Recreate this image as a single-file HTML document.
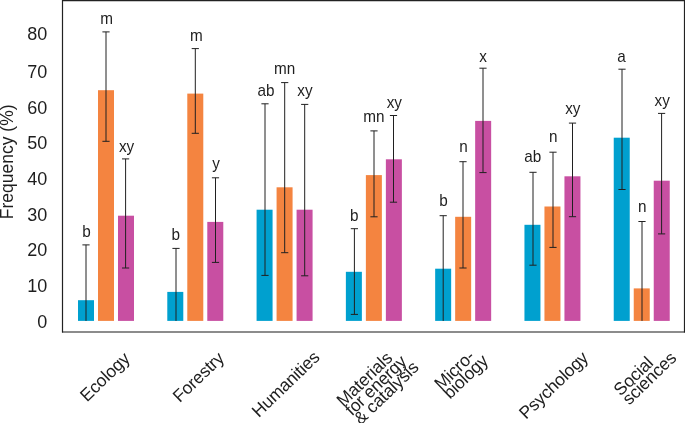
<!DOCTYPE html>
<html><head><meta charset="utf-8"><style>
html,body{margin:0;padding:0;background:#fff;overflow:hidden;}
svg{display:block;will-change:transform;font-family:"Liberation Sans",sans-serif;}
</style></head><body>
<svg width="685" height="423" viewBox="0 0 685 423">
<path d="M62.5 0V332.5M62 0.6H685M684.5 0V332.5" fill="none" stroke="#222" stroke-width="1.2"/>
<path d="M62 332H685" fill="none" stroke="#1a1a1a" stroke-width="1.1"/>
<g fill="#1e1e1e">
<rect x="78.00" y="300.20" width="16" height="20.70" fill="#00a0cf"/>
<rect x="98.00" y="90.20" width="16" height="230.70" fill="#f48440"/>
<rect x="118.00" y="215.70" width="16" height="105.20" fill="#c84fa2"/>
<rect x="167.29" y="291.90" width="16" height="29.00" fill="#00a0cf"/>
<rect x="187.29" y="93.60" width="16" height="227.30" fill="#f48440"/>
<rect x="207.29" y="221.90" width="16" height="99.00" fill="#c84fa2"/>
<rect x="256.58" y="209.70" width="16" height="111.20" fill="#00a0cf"/>
<rect x="276.58" y="187.30" width="16" height="133.60" fill="#f48440"/>
<rect x="296.58" y="209.70" width="16" height="111.20" fill="#c84fa2"/>
<rect x="345.87" y="271.80" width="16" height="49.10" fill="#00a0cf"/>
<rect x="365.87" y="175.10" width="16" height="145.80" fill="#f48440"/>
<rect x="385.87" y="159.30" width="16" height="161.60" fill="#c84fa2"/>
<rect x="435.16" y="268.70" width="16" height="52.20" fill="#00a0cf"/>
<rect x="455.16" y="216.80" width="16" height="104.10" fill="#f48440"/>
<rect x="475.16" y="120.90" width="16" height="200.00" fill="#c84fa2"/>
<rect x="524.45" y="224.80" width="16" height="96.10" fill="#00a0cf"/>
<rect x="544.45" y="206.50" width="16" height="114.40" fill="#f48440"/>
<rect x="564.45" y="176.30" width="16" height="144.60" fill="#c84fa2"/>
<rect x="613.74" y="137.70" width="16" height="183.20" fill="#00a0cf"/>
<rect x="633.74" y="288.40" width="16" height="32.50" fill="#f48440"/>
<rect x="653.74" y="180.70" width="16" height="140.20" fill="#c84fa2"/>
<path d="M86.00 244.90V320.90M82.40 244.90H89.60M106.00 31.90V141.30M102.40 31.90H109.60M102.40 141.30H109.60M125.60 158.90V268.00M122.00 158.90H129.20M122.00 268.00H129.20M176.00 248.40V320.90M172.40 248.40H179.60M195.30 48.60V133.30M191.70 48.60H198.90M191.70 133.30H198.90M215.50 177.80V262.40M211.90 177.80H219.10M211.90 262.40H219.10M265.00 103.80V275.40M261.40 103.80H268.60M261.40 275.40H268.60M284.70 82.60V252.70M281.10 82.60H288.30M281.10 252.70H288.30M304.70 104.40V275.80M301.10 104.40H308.30M301.10 275.80H308.30M354.40 228.70V314.40M350.80 228.70H358.00M350.80 314.40H358.00M374.00 130.90V216.80M370.40 130.90H377.60M370.40 216.80H377.60M393.50 115.50V202.20M389.90 115.50H397.10M389.90 202.20H397.10M443.20 215.70V320.90M439.60 215.70H446.80M463.00 161.70V268.00M459.40 161.70H466.60M459.40 268.00H466.60M483.00 68.20V172.60M479.40 68.20H486.60M479.40 172.60H486.60M533.00 172.30V265.20M529.40 172.30H536.60M529.40 265.20H536.60M553.00 152.20V247.40M549.40 152.20H556.60M549.40 247.40H556.60M572.50 123.10V216.70M568.90 123.10H576.10M568.90 216.70H576.10M622.00 69.20V189.50M618.40 69.20H625.60M618.40 189.50H625.60M642.00 221.50V320.90M638.40 221.50H645.60M661.60 113.40V233.90M658.00 113.40H665.20M658.00 233.90H665.20" fill="none" stroke="#202020" stroke-width="1.0"/>
<text transform="translate(86.50,236.60) scale(1,1.07)" text-anchor="middle" font-size="15.3">b</text>
<text transform="translate(106.65,24.40) scale(1,1.07)" text-anchor="middle" font-size="15.3">m</text>
<text transform="translate(126.60,151.70) scale(1,1.07)" text-anchor="middle" font-size="15.3">xy</text>
<text transform="translate(175.64,240.20) scale(1,1.07)" text-anchor="middle" font-size="15.3">b</text>
<text transform="translate(196.29,40.80) scale(1,1.07)" text-anchor="middle" font-size="15.3">m</text>
<text transform="translate(216.14,169.40) scale(1,1.07)" text-anchor="middle" font-size="15.3">y</text>
<text transform="translate(265.88,96.00) scale(1,1.07)" text-anchor="middle" font-size="15.3">ab</text>
<text transform="translate(284.73,73.70) scale(1,1.07)" text-anchor="middle" font-size="15.3">mn</text>
<text transform="translate(304.88,95.90) scale(1,1.07)" text-anchor="middle" font-size="15.3">xy</text>
<text transform="translate(354.27,220.60) scale(1,1.07)" text-anchor="middle" font-size="15.3">b</text>
<text transform="translate(373.77,121.70) scale(1,1.07)" text-anchor="middle" font-size="15.3">mn</text>
<text transform="translate(394.27,108.20) scale(1,1.07)" text-anchor="middle" font-size="15.3">xy</text>
<text transform="translate(443.56,206.00) scale(1,1.07)" text-anchor="middle" font-size="15.3">b</text>
<text transform="translate(463.56,152.10) scale(1,1.07)" text-anchor="middle" font-size="15.3">n</text>
<text transform="translate(483.06,62.00) scale(1,1.07)" text-anchor="middle" font-size="15.3">x</text>
<text transform="translate(532.85,162.20) scale(1,1.07)" text-anchor="middle" font-size="15.3">ab</text>
<text transform="translate(553.35,141.80) scale(1,1.07)" text-anchor="middle" font-size="15.3">n</text>
<text transform="translate(572.85,114.40) scale(1,1.07)" text-anchor="middle" font-size="15.3">xy</text>
<text transform="translate(621.44,61.90) scale(1,1.07)" text-anchor="middle" font-size="15.3">a</text>
<text transform="translate(642.14,211.80) scale(1,1.07)" text-anchor="middle" font-size="15.3">n</text>
<text transform="translate(662.14,105.50) scale(1,1.07)" text-anchor="middle" font-size="15.3">xy</text>
<text x="47.3" y="327.55" text-anchor="end" font-size="18">0</text>
<text x="47.3" y="292.05" text-anchor="end" font-size="18">10</text>
<text x="47.3" y="256.35" text-anchor="end" font-size="18">20</text>
<text x="47.3" y="220.85" text-anchor="end" font-size="18">30</text>
<text x="47.3" y="185.05" text-anchor="end" font-size="18">40</text>
<text x="47.3" y="149.35" text-anchor="end" font-size="18">50</text>
<text x="47.3" y="113.60" text-anchor="end" font-size="18">60</text>
<text x="47.3" y="78.05" text-anchor="end" font-size="18">70</text>
<text x="47.3" y="40.25" text-anchor="end" font-size="18">80</text>
<text transform="translate(12.5,219.2) rotate(-90)" font-size="17.5">Frequency (%)</text>
<text transform="translate(130.93,359.87) rotate(-44.0)" text-anchor="end" font-size="17.5" letter-spacing="-0.15">Ecology</text>
<text transform="translate(225.10,359.40) rotate(-44.0)" text-anchor="end" font-size="17.5" letter-spacing="-0.15">Forestry</text>
<text transform="translate(320.70,358.40) rotate(-44.0)" text-anchor="end" font-size="17.5" letter-spacing="-0.15">Humanities</text>
<text transform="translate(343.40,407.60) rotate(-44.0)" font-size="17.5" letter-spacing="-0.15"><tspan x="0" dy="0">Materials</tspan><tspan x="0" dy="12.5">for energy</tspan><tspan x="0" dy="12.5">&amp; catalysis</tspan></text>
<text transform="translate(441.30,390.80) rotate(-44.0)" font-size="17.5" letter-spacing="-0.15"><tspan x="0" dy="0">Micro-</tspan><tspan x="0" dy="12.5">biology</tspan></text>
<text transform="translate(589.30,358.90) rotate(-44.0)" text-anchor="end" font-size="17.5" letter-spacing="-0.15">Psychology</text>
<text transform="translate(620.60,396.70) rotate(-44.0)" font-size="17.5" letter-spacing="-0.15"><tspan x="0" dy="0">Social</tspan><tspan x="0" dy="12.5">sciences</tspan></text>
</g>
</svg>
</body></html>
